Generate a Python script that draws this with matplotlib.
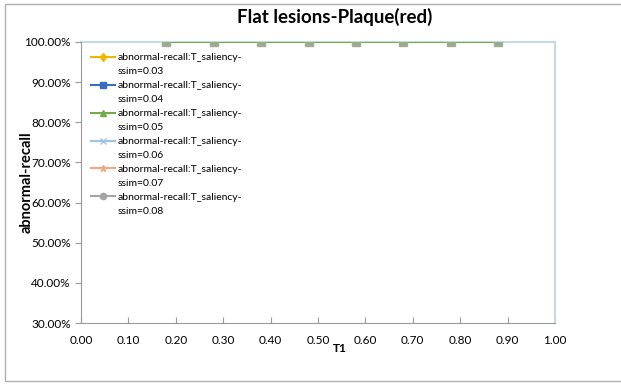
import matplotlib.pyplot as plt
from matplotlib.lines import Line2D
from matplotlib.patches import Rectangle
from matplotlib.ticker import PercentFormatter

plt.rcParams['font.family'] = ['Lato', 'DejaVu Sans']

# T1 阈值与召回率
t1 = [0.18, 0.28, 0.38, 0.48, 0.58, 0.68, 0.78, 0.88]
ssim = ['0.03', '0.04', '0.05', '0.06', '0.07', '0.08']
recall = {
    '0.03': [1.0, 1.0, 1.0, 1.0, 1.0, 1.0, 1.0, 1.0],
    '0.04': [1.0, 1.0, 1.0, 1.0, 1.0, 1.0, 1.0, 1.0],
    '0.05': [1.0, 1.0, 1.0, 1.0, 1.0, 1.0, 1.0, 1.0],
    '0.06': [1.0, 1.0, 1.0, 1.0, 1.0, 1.0, 1.0, 1.0],
    '0.07': [1.0, 1.0, 1.0, 1.0, 1.0, 1.0, 1.0, 1.0],
    '0.08': [1.0, 1.0, 1.0, 1.0, 1.0, 1.0, 1.0, 1.0],
}

colors = ['#f2b800', '#3a6bc4', '#70ad47', '#9dc3e6', '#f4a582', '#a5a5a5']
markers = ['d', 's', '^', 'x', '*', 'o']

fig = plt.figure(figsize=(6.21, 3.85), dpi=100)
ax = fig.add_axes([81/621, 1-323/385, 474/621, 281/385])

# 外框
fig.patches.append(Rectangle((5/621, 4/385), 1.0, 377/385, transform=fig.transFigure,
                             fill=False, edgecolor='#b0b0b0', linewidth=1))

# 重叠的系列：后画的盖住先画的
for i in [5, 4, 3, 0, 2]:
    s = ssim[i]
    ax.plot(t1, recall[s], color=colors[i], marker=markers[i], markersize=4,
            linewidth=1.3, zorder=3)
ax.plot(t1, recall['0.04'], linestyle='none', marker='s', markersize=5.5,
        markerfacecolor='#9aab8c', markeredgecolor='#a2ad98', zorder=4)

ax.set_xlim(0, 1.0)
ax.set_ylim(0.3, 1.0)
ax.set_xticks([i / 10 for i in range(11)])
ax.set_xticklabels(['%.2f' % (i / 10) for i in range(11)])
ax.set_yticks([0.3, 0.4, 0.5, 0.6, 0.7, 0.8, 0.9, 1.0])
ax.yaxis.set_major_formatter(PercentFormatter(1.0, decimals=2))
ax.tick_params(axis='x', direction='in', length=4, labelsize=8.5, color='#9a9a9a', pad=9)
ax.tick_params(axis='y', direction='out', length=4, labelsize=8.5, color='#9a9a9a')

for side in ['left', 'bottom']:
    ax.spines[side].set_color('#9a9a9a')
for side in ['top', 'right']:
    ax.spines[side].set_color('#c5d9e8')
    ax.spines[side].set_linewidth(1.5)
ax.spines['top'].set_zorder(1)

fig.text(335/621, 1-17/385, 'Flat lesions-Plaque(red)', fontsize=13.5,
         fontweight='bold', ha='center', va='center')
ax.set_ylabel('abnormal-recall', fontsize=10.5, fontweight='bold')
ax.yaxis.set_label_coords(-0.101, 0.5)
ax.set_xlabel('T1', fontsize=8.5, fontweight='bold')
ax.xaxis.set_label_coords((340-81)/474, -0.07)

# 图例：每项两行，标记对齐第一行
handles, labels = [], []
for i, s in enumerate(ssim):
    handles.append(Line2D([], [], color=colors[i], marker=markers[i], markersize=4.5,
                          linewidth=1.5))
    labels.append('abnormal-recall:T_saliency-')
    handles.append(Line2D([], [], linestyle='none'))
    labels.append('ssim=' + s)
ax.legend(handles, labels, loc='upper left', bbox_to_anchor=(91/621, 1-53/385),
          bbox_transform=fig.transFigure, frameon=False, fontsize=7.5,
          handlelength=2.3, handletextpad=0.3, labelspacing=0.45, borderaxespad=0,
          borderpad=0)

plt.savefig('out.png', dpi=100)
